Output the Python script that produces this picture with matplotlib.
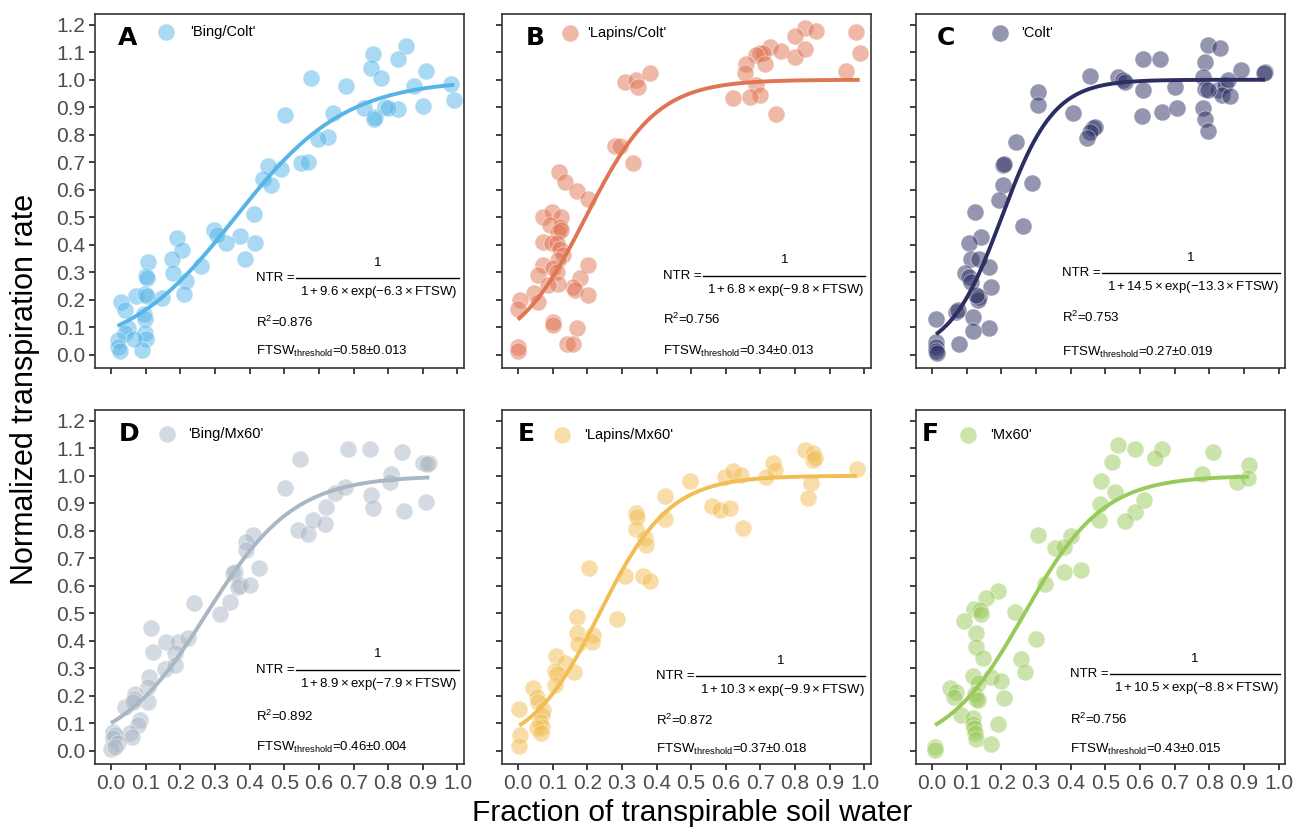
import matplotlib
matplotlib.use('Agg')
import matplotlib.pyplot as plt
import numpy as np

plt.rcParams['font.family'] = ['Liberation Sans', 'DejaVu Sans']
plt.rcParams['mathtext.fontset'] = 'custom'
plt.rcParams['mathtext.rm'] = 'Liberation Sans'
plt.rcParams['mathtext.it'] = 'Liberation Sans:italic'
plt.rcParams['mathtext.bf'] = 'Liberation Sans:bold'

# ---- data ----
# A  'Bing/Colt'
x_a = [0.852, 0.756, 0.828, 0.751, 0.780, 0.910, 0.982, 0.991, 0.874, 0.900, 0.828, 0.790,
       0.799, 0.761, 0.759, 0.730, 0.679, 0.578, 0.641, 0.501, 0.626, 0.598, 0.549, 0.569,
       0.492, 0.453, 0.439, 0.463, 0.413, 0.415, 0.372, 0.386, 0.333, 0.298, 0.307, 0.192,
       0.206, 0.177, 0.178, 0.218, 0.211, 0.259, 0.148, 0.106, 0.100, 0.103, 0.071, 0.098,
       0.103, 0.029, 0.042, 0.096, 0.098, 0.050, 0.042, 0.098, 0.100, 0.019, 0.021, 0.026,
       0.090, 0.067]
y_a = [1.122, 1.095, 1.074, 1.041, 1.005, 1.032, 0.984, 0.928, 0.977, 0.904, 0.892, 0.902,
       0.899, 0.865, 0.859, 0.899, 0.977, 1.007, 0.880, 0.870, 0.793, 0.783, 0.698, 0.702,
       0.674, 0.686, 0.638, 0.617, 0.512, 0.407, 0.432, 0.350, 0.407, 0.453, 0.435, 0.425,
       0.381, 0.350, 0.298, 0.269, 0.221, 0.322, 0.205, 0.338, 0.286, 0.278, 0.213, 0.221,
       0.213, 0.193, 0.162, 0.148, 0.132, 0.096, 0.080, 0.080, 0.059, 0.053, 0.027, 0.015,
       0.017, 0.059]

# B  'Lapins/Colt'
x_b = [0.828, 0.799, 0.861, 0.977, 0.986, 0.727, 0.760, 0.698, 0.707, 0.688, 0.712, 0.799,
       0.828, 0.659, 0.654, 0.946, 0.688, 0.698, 0.669, 0.621, 0.746, 0.309, 0.342, 0.347,
       0.381, 0.280, 0.294, 0.333, 0.120, 0.136, 0.171, 0.203, 0.073, 0.097, 0.123, 0.093,
       0.122, 0.117, 0.123, 0.073, 0.097, 0.112, 0.122, 0.129, 0.117, 0.073, 0.059, 0.102,
       0.112, 0.203, 0.179, 0.160, 0.165, 0.203, 0.117, 0.088, 0.047, 0.006, 0.001, 0.059,
       0.102, 0.102, 0.170, 0.141, 0.160, 0.000, 0.000]
y_b = [1.187, 1.159, 1.178, 1.175, 1.096, 1.120, 1.105, 1.096, 1.098, 1.090, 1.059, 1.084,
       1.110, 1.059, 1.023, 1.032, 0.981, 0.944, 0.936, 0.932, 0.875, 0.993, 0.999, 0.975,
       1.025, 0.759, 0.759, 0.698, 0.665, 0.629, 0.596, 0.568, 0.502, 0.520, 0.502, 0.472,
       0.465, 0.447, 0.453, 0.411, 0.405, 0.405, 0.383, 0.362, 0.344, 0.326, 0.290, 0.314,
       0.302, 0.326, 0.278, 0.247, 0.235, 0.217, 0.259, 0.253, 0.223, 0.199, 0.168, 0.193,
       0.120, 0.108, 0.099, 0.039, 0.039, 0.027, 0.015]

# C  'Colt'
x_c = [0.797, 0.831, 0.788, 0.893, 0.961, 0.959, 0.609, 0.657, 0.455, 0.537, 0.552, 0.556,
       0.609, 0.701, 0.783, 0.788, 0.826, 0.845, 0.855, 0.836, 0.860, 0.797, 0.407, 0.605,
       0.664, 0.706, 0.783, 0.788, 0.797, 0.465, 0.470, 0.455, 0.446, 0.306, 0.306, 0.243,
       0.205, 0.208, 0.205, 0.289, 0.192, 0.123, 0.263, 0.142, 0.108, 0.113, 0.137, 0.166,
       0.094, 0.108, 0.113, 0.171, 0.137, 0.132, 0.128, 0.070, 0.075, 0.118, 0.166, 0.118,
       0.012, 0.079, 0.012, 0.012, 0.012, 0.015]
y_c = [1.126, 1.114, 1.065, 1.035, 1.029, 1.025, 1.074, 1.074, 1.013, 1.011, 0.999, 0.993,
       0.962, 0.975, 1.011, 0.968, 0.962, 0.981, 0.999, 0.944, 0.941, 0.962, 0.878, 0.868,
       0.884, 0.896, 0.896, 0.859, 0.815, 0.823, 0.827, 0.811, 0.787, 0.956, 0.908, 0.775,
       0.690, 0.693, 0.617, 0.625, 0.562, 0.520, 0.468, 0.429, 0.405, 0.350, 0.347, 0.318,
       0.296, 0.284, 0.265, 0.247, 0.211, 0.201, 0.217, 0.156, 0.162, 0.138, 0.099, 0.087,
       0.132, 0.041, 0.047, 0.029, 0.015, 0.005]

# D  'Bing/Mx60'
x_d = [0.684, 0.749, 0.840, 0.545, 0.900, 0.919, 0.913, 0.501, 0.809, 0.804, 0.674, 0.646,
       0.622, 0.751, 0.756, 0.847, 0.910, 0.540, 0.569, 0.583, 0.617, 0.410, 0.391, 0.391,
       0.427, 0.357, 0.353, 0.372, 0.367, 0.401, 0.343, 0.240, 0.314, 0.117, 0.160, 0.194,
       0.223, 0.122, 0.184, 0.156, 0.184, 0.110, 0.108, 0.069, 0.106, 0.040, 0.067, 0.064,
       0.084, 0.079, 0.055, 0.060, 0.007, 0.012, 0.007, 0.021, 0.000, 0.012]
y_d = [1.099, 1.099, 1.087, 1.061, 1.045, 1.048, 1.041, 0.956, 1.008, 0.978, 0.960, 0.936,
       0.887, 0.930, 0.881, 0.872, 0.905, 0.802, 0.790, 0.839, 0.823, 0.784, 0.760, 0.730,
       0.665, 0.651, 0.645, 0.602, 0.596, 0.602, 0.542, 0.539, 0.496, 0.445, 0.396, 0.396,
       0.411, 0.358, 0.354, 0.299, 0.312, 0.269, 0.233, 0.208, 0.178, 0.160, 0.190, 0.178,
       0.112, 0.093, 0.063, 0.051, 0.069, 0.057, 0.045, 0.027, 0.008, 0.015]

# E  'Lapins/Mx60'
x_e = [0.828, 0.852, 0.852, 0.856, 0.978, 0.736, 0.741, 0.717, 0.597, 0.621, 0.645, 0.496,
       0.847, 0.837, 0.424, 0.424, 0.559, 0.583, 0.612, 0.650, 0.341, 0.343, 0.341, 0.366,
       0.371, 0.206, 0.309, 0.360, 0.381, 0.171, 0.285, 0.171, 0.218, 0.174, 0.213, 0.110,
       0.136, 0.107, 0.112, 0.162, 0.107, 0.045, 0.054, 0.059, 0.073, 0.069, 0.004, 0.064,
       0.069, 0.054, 0.066, 0.006, 0.004]
y_e = [1.093, 1.081, 1.057, 1.063, 1.024, 1.045, 1.021, 0.996, 0.996, 1.017, 1.002, 0.981,
       0.972, 0.920, 0.927, 0.842, 0.891, 0.875, 0.884, 0.811, 0.863, 0.851, 0.808, 0.772,
       0.748, 0.663, 0.636, 0.636, 0.617, 0.487, 0.481, 0.430, 0.421, 0.387, 0.396, 0.345,
       0.318, 0.290, 0.278, 0.285, 0.239, 0.227, 0.196, 0.178, 0.148, 0.130, 0.152, 0.105,
       0.087, 0.084, 0.063, 0.057, 0.018]

# F  'Mx60'
x_f = [0.537, 0.585, 0.664, 0.645, 0.812, 0.520, 0.915, 0.489, 0.780, 0.879, 0.911, 0.527,
       0.612, 0.484, 0.585, 0.481, 0.558, 0.306, 0.402, 0.356, 0.381, 0.381, 0.431, 0.325,
       0.190, 0.157, 0.121, 0.140, 0.142, 0.092, 0.240, 0.301, 0.128, 0.128, 0.147, 0.256,
       0.269, 0.118, 0.132, 0.171, 0.200, 0.053, 0.070, 0.065, 0.123, 0.128, 0.132, 0.208,
       0.084, 0.118, 0.118, 0.121, 0.123, 0.128, 0.190, 0.169, 0.009, 0.009]
y_f = [1.112, 1.097, 1.099, 1.063, 1.087, 1.051, 1.039, 0.981, 1.008, 0.976, 0.993, 0.942,
       0.912, 0.899, 0.869, 0.839, 0.835, 0.784, 0.782, 0.738, 0.742, 0.651, 0.657, 0.608,
       0.581, 0.556, 0.515, 0.512, 0.496, 0.472, 0.505, 0.408, 0.427, 0.378, 0.336, 0.333,
       0.287, 0.273, 0.248, 0.269, 0.253, 0.229, 0.215, 0.196, 0.208, 0.190, 0.184, 0.193,
       0.130, 0.118, 0.099, 0.084, 0.063, 0.042, 0.096, 0.023, 0.015, 0.002]

letters = ['A', 'B', 'C', 'D', 'E', 'F']
names = ["'Bing/Colt'", "'Lapins/Colt'", "'Colt'", "'Bing/Mx60'", "'Lapins/Mx60'", "'Mx60'"]
a_coef = [9.6, 6.8, 14.5, 8.9, 10.3, 10.5]
b_coef = [6.3, 9.8, 13.3, 7.9, 9.9, 8.8]
r2 = ['0.876', '0.756', '0.753', '0.892', '0.872', '0.756']
thresh = ['0.58\u00b10.013', '0.34\u00b10.013', '0.27\u00b10.019',
          '0.46\u00b10.004', '0.37\u00b10.018', '0.43\u00b10.015']
xs = [x_a, x_b, x_c, x_d, x_e, x_f]
ys = [y_a, y_b, y_c, y_d, y_e, y_f]
colors = ['#56B4E9', '#E07553', '#2B2E62', '#A9B6C4', '#F2BD52', '#98CA5A']

# ---- layout ----
fig = plt.figure(figsize=(12.94, 8.33), dpi=100)
renderer = fig.canvas.get_renderer()
lefts = [0.0734, 0.3879, 0.7079]
bottoms = [0.5582, 0.0828]
w, h = 0.2855, 0.425

letter_x = [0.062, 0.065, 0.057, 0.065, 0.043, 0.016]
leg_mx = [0.192, 0.184, 0.228, 0.195, 0.162, 0.141]
leg_tx = [0.257, 0.230, 0.285, 0.251, 0.222, 0.201]
leg_y = [0.948, 0.945, 0.945, 0.932, 0.928, 0.930]
bar_y = [0.254, 0.260, 0.268, 0.266, 0.248, 0.254]
r2_y = [0.130, 0.136, 0.144, 0.134, 0.124, 0.127]
ft_y = [0.048, 0.047, 0.045, 0.046, 0.040, 0.042]

for i in range(6):
    row, col = divmod(i, 3)
    ax = fig.add_axes([lefts[col], bottoms[row], w, h])
    x = np.array(xs[i])
    y = np.array(ys[i])
    c = colors[i]

    ax.scatter(x, y, s=150, color=c, alpha=0.5, edgecolors='white', linewidths=0.6, zorder=2)
    xx = np.linspace(x.min(), x.max(), 200)
    ax.plot(xx, 1 / (1 + a_coef[i] * np.exp(-b_coef[i] * xx)), color=c, lw=2.8, zorder=3,
            solid_capstyle='butt')

    ax.set_xlim(-0.046, 1.02)
    ax.set_ylim(-0.048, 1.239)
    ax.set_xticks(np.arange(0, 1.01, 0.1))
    ax.set_yticks(np.arange(0, 1.21, 0.1))
    ax.set_xticklabels(['%.1f' % v for v in np.arange(0, 1.01, 0.1)])
    ax.set_yticklabels(['%.1f' % v for v in np.arange(0, 1.21, 0.1)])
    ax.tick_params(direction='out', length=4, width=1.3, color='#333333',
                   labelcolor='#4d4d4d', labelsize=15, pad=3)
    if row == 0:
        ax.tick_params(labelbottom=False)
    if col > 0:
        ax.tick_params(labelleft=False)
    for sp in ax.spines.values():
        sp.set_color('#333333')
        sp.set_linewidth(1.2)

    # panel letter and legend key
    ax.text(letter_x[i], 0.933, letters[i], transform=ax.transAxes, fontsize=18,
            fontweight='bold', family=['DejaVu Sans'], va='center', ha='left')
    ax.scatter([leg_mx[i]], [leg_y[i]], s=150, color=c, alpha=0.5, edgecolors='white',
               linewidths=0.6, transform=ax.transAxes, clip_on=False)
    ax.text(leg_tx[i], leg_y[i], names[i], transform=ax.transAxes, fontsize=10.5,
            va='center', ha='left')

    # equation block: NTR = 1 / (denominator) built from pieces
    by = bar_y[i]
    den = ax.text(0.982, by - 0.040,
                  r'$1+%s\times\exp(-%s\times\mathrm{FTSW})$' % (a_coef[i], b_coef[i]),
                  transform=ax.transAxes, fontsize=9.5, ha='right', va='center')
    bb = den.get_window_extent(renderer).transformed(ax.transAxes.inverted())
    x0, x1 = bb.x0 - 0.012, 0.984
    ax.plot([x0, x1], [by, by], color='black', lw=1.0, transform=ax.transAxes,
            clip_on=False)
    ax.text((x0 + x1) / 2, by + 0.044, '1', transform=ax.transAxes, fontsize=9.5,
            ha='center', va='center')
    ntr = ax.text(x0 - 0.004, by, 'NTR =', transform=ax.transAxes, fontsize=9.5,
                  ha='right', va='center')
    nb = ntr.get_window_extent(renderer).transformed(ax.transAxes.inverted())
    ax.text(nb.x0, r2_y[i], r'R$^2$=' + r2[i], transform=ax.transAxes, fontsize=9.5,
            ha='left', va='center')
    ax.text(nb.x0, ft_y[i], r'FTSW$_{\mathrm{threshold}}$=' + thresh[i],
            transform=ax.transAxes, fontsize=9.5, ha='left', va='center')

fig.text(0.019, 0.533, 'Normalized transpiration rate', rotation=90, fontsize=22,
         ha='center', va='center')
fig.text(0.535, 0.024, 'Fraction of transpirable soil water', fontsize=21.5,
         ha='center', va='center')

fig.savefig('out.png', dpi=100)
